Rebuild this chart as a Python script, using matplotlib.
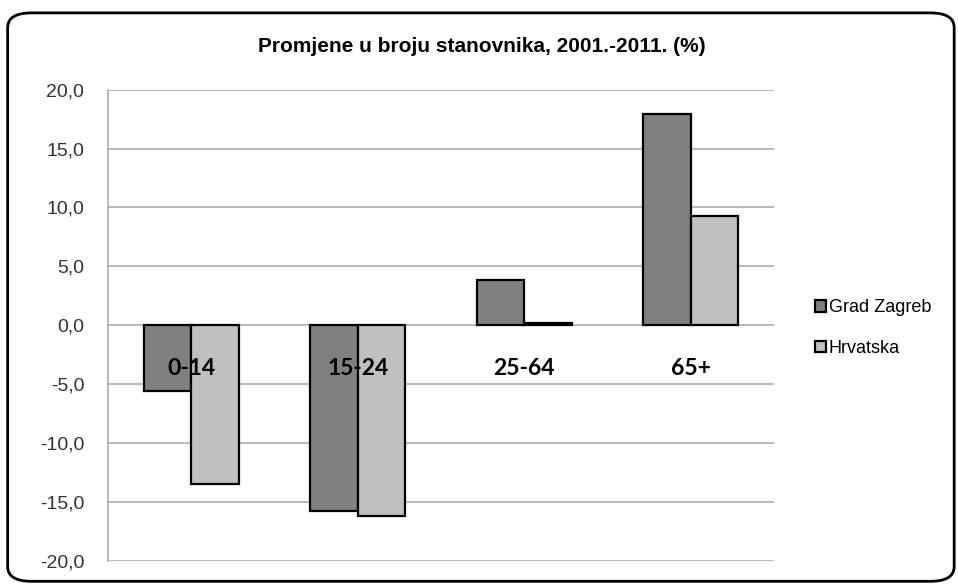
import matplotlib.pyplot as plt
import numpy as np
from matplotlib.patches import FancyBboxPatch
from matplotlib.ticker import FuncFormatter, MultipleLocator

categories = ['0-14', '15-24', '25-64', '65+']
zagreb = [-5.6, -15.8, 3.8, 17.9]
hrvatska = [-13.5, -16.2, 0.2, 9.3]
series_names = ['Grad Zagreb', 'Hrvatska']
title = 'Promjene u broju stanovnika, 2001.-2011. (%)'

fig = plt.figure(figsize=(9.58, 5.86), dpi=100)
fig.patch.set_facecolor('white')

# rounded outer frame like the Excel chart area
frame = FancyBboxPatch((0.008, 0.008), 0.988, 0.97,
                       boxstyle='round,pad=0,rounding_size=0.025',
                       transform=fig.transFigure, facecolor='none',
                       edgecolor='black', linewidth=2, zorder=10)
fig.patches.append(frame)

ax = fig.add_axes([0.1127, 0.0432, 0.6953, 0.8038])
ax.set_facecolor('none')

x = np.arange(len(categories))
w = 0.286
ax.bar(x - w / 2, zagreb, w, color='#808080', edgecolor='black', linewidth=1.6,
       label=series_names[0], zorder=3)
ax.bar(x + w / 2, hrvatska, w, color='#c0c0c0', edgecolor='black', linewidth=1.6,
       label=series_names[1], zorder=3)

ax.set_xlim(-0.5, len(categories) - 0.5)
ax.set_ylim(-20, 20)
ax.yaxis.set_major_locator(MultipleLocator(5))
ax.yaxis.set_major_formatter(FuncFormatter(lambda v, p: f'{v:.1f}'.replace('.', ',')))
ax.yaxis.grid(True, color='#a6a6a6', linewidth=1.1, zorder=0)
ax.set_axisbelow(True)
ax.set_xticks([])
ax.tick_params(axis='y', length=0, pad=17, labelsize=14, labelcolor='#333333')
for lab in ax.get_yticklabels():
    lab.set_fontfamily('Liberation Sans')
for s in ['top', 'right', 'bottom']:
    ax.spines[s].set_visible(False)
ax.spines['left'].set_color('#a6a6a6')
ax.spines['left'].set_linewidth(1.1)

# category names sit inside the plot, just under zero
for xi, cat in zip(x, categories):
    ax.text(xi, -3.7, cat, ha='center', va='center', fontsize=16.5,
            fontweight='bold', family='Lato', color='black', zorder=5)

fig.text(0.503, 0.921, title, ha='center', va='center', fontsize=15,
         fontweight='bold', family='Liberation Sans', color='black')

leg = fig.legend(loc='center left', bbox_to_anchor=(0.834, 0.44), frameon=False,
                 prop={'family': 'Liberation Sans', 'size': 13},
                 handlelength=0.6, handleheight=0.6, handletextpad=0.15,
                 labelspacing=1.3)

fig.savefig('out.png', dpi=100)
